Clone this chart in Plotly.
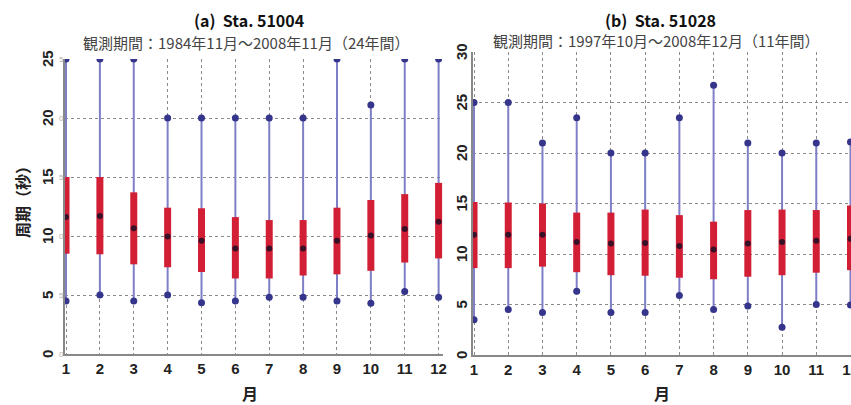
import plotly.graph_objects as go

months = list(range(1, 13))
month_labels = [str(m) for m in months]
a_yticks = [0, 5, 10, 15, 20, 25]
b_yticks = [0, 5, 10, 15, 20, 25, 30]

# (a) Sta. 51004
a_min = [4.5, 5.0, 4.5, 5.0, 4.35, 4.5, 4.8, 4.8, 4.5, 4.3, 5.3, 4.8]
a_q1 = [8.5, 8.45, 7.6, 7.35, 6.95, 6.4, 6.4, 6.65, 6.75, 7.05, 7.75, 8.1]
a_med = [11.6, 11.7, 10.65, 9.95, 9.6, 8.95, 8.95, 8.95, 9.6, 10.05, 10.6, 11.2]
a_q3 = [15.0, 15.0, 13.7, 12.4, 12.35, 11.6, 11.35, 11.35, 12.4, 13.05, 13.55, 14.5]
a_max = [25, 25, 25, 20, 20, 20, 20, 20, 25, 21.1, 25, 25]

# (b) Sta. 51028
b_min = [3.5, 4.5, 4.2, 6.3, 4.2, 4.2, 5.9, 4.5, 4.85, 2.75, 5.0, 4.95]
b_q1 = [8.6, 8.6, 8.75, 8.2, 7.9, 7.85, 7.65, 7.5, 7.75, 7.9, 8.15, 8.4]
b_med = [11.9, 11.9, 11.9, 11.2, 11.05, 11.1, 10.8, 10.45, 11.05, 11.2, 11.3, 11.5]
b_q3 = [15.15, 15.1, 15.0, 14.1, 14.1, 14.4, 13.85, 13.2, 14.35, 14.4, 14.35, 14.8]
b_max = [25, 25, 21, 23.5, 20, 20, 23.5, 26.7, 21, 20, 21, 21.1]

W, H = 851, 405
WHISKER = "#7f7fc8"
ENDDOT = "#35358c"
BOX = "#d21f35"
MED = "#3a0f28"
FONT_NUM = "Liberation Sans, Arial, Noto Sans CJK JP"
FONT_JP = "Noto Sans CJK JP, Liberation Sans"


def seg(xs, y0, y1):
    x, y = [], []
    for m, a, b in zip(xs, y0, y1):
        x += [m, m, None]
        y += [a, b, None]
    return x, y


fig = go.Figure()


def add_station(mins, q1, med, q3, maxs, xa, ya):
    wx, wy = seg(months, mins, maxs)
    fig.add_trace(go.Scatter(x=wx, y=wy, mode="lines", line=dict(color=WHISKER, width=2),
                             xaxis=xa, yaxis=ya, hoverinfo="skip"))
    fig.add_trace(go.Scatter(x=months + months, y=mins + maxs, mode="markers",
                             marker=dict(color=ENDDOT, size=7), xaxis=xa, yaxis=ya))
    bx, by = seg(months, q1, q3)
    fig.add_trace(go.Scatter(x=bx, y=by, mode="lines", line=dict(color=BOX, width=7),
                             xaxis=xa, yaxis=ya, hoverinfo="skip"))
    fig.add_trace(go.Scatter(x=months, y=med, mode="markers",
                             marker=dict(color=MED, size=6), xaxis=xa, yaxis=ya))


add_station(a_min, a_q1, a_med, a_q3, a_max, "x", "y")
add_station(b_min, b_q1, b_med, b_q3, b_max, "x2", "y2")

grid = dict(showgrid=True, gridcolor="#8a8a8a", griddash="dot", gridwidth=1,
            showline=True, linecolor="#888888", linewidth=1.5, zeroline=False,
            ticks="", fixedrange=True)
xt = dict(tickmode="array", tickvals=months, ticktext=month_labels, ticklabeloverflow="allow",
          tickfont=dict(family=FONT_NUM, size=15, color="#222", weight="bold"))

fig.update_layout(
    width=W, height=H,
    margin=dict(l=0, r=0, t=0, b=0, autoexpand=False),
    plot_bgcolor="white", paper_bgcolor="white",
    showlegend=False,
    xaxis=dict(domain=[65 / W, 443 / W], range=[0.97, 12.13], anchor="y", **grid, **xt),
    yaxis=dict(domain=[(H - 354) / H, (H - 59) / H], range=[0, 25], anchor="x",
               tickvals=a_yticks, showticklabels=False, **grid),
    xaxis2=dict(domain=[473 / W, 1.0], range=[0.97, 12.015], anchor="y2", **grid, **xt),
    yaxis2=dict(domain=[(H - 355) / H, (H - 52) / H], range=[0, 30], anchor="x2",
                tickvals=b_yticks, showticklabels=False, **grid),
)

tickfont = dict(family=FONT_NUM, size=15, color="#222", weight="bold")
ann = [
    dict(text="(a)  Sta. 51004", x=249 / W, y=1 - 20 / H, font=dict(family=FONT_JP, size=16, color="#111", weight="bold")),
    dict(text="観測期間：1984年11月～2008年11月（24年間）", x=246 / W, y=1 - 42 / H,
         font=dict(family=FONT_JP, size=15, color="#444")),
    dict(text="(b)  Sta. 51028", x=660 / W, y=1 - 20 / H, font=dict(family=FONT_JP, size=16, color="#111", weight="bold")),
    dict(text="観測期間：1997年10月～2008年12月（11年間）", x=656 / W, y=1 - 40 / H,
         font=dict(family=FONT_JP, size=15, color="#444")),
    dict(text="月", x=250 / W, y=1 - 393 / H, font=dict(family=FONT_JP, size=16, color="#222", weight="bold")),
    dict(text="月", x=662 / W, y=1 - 393 / H, font=dict(family=FONT_JP, size=16, color="#222", weight="bold")),
    dict(text="周期（秒）", x=22 / W, y=1 - 198 / H, textangle=-90,
         font=dict(family=FONT_JP, size=16, color="#222", weight="bold")),
]
for a in ann:
    a.update(xref="paper", yref="paper")
for v in a_yticks:
    ann.append(dict(text=str(v), x=47 / W, y=v, xref="paper", yref="y", textangle=-90, font=tickfont))
    ann.append(dict(text=str(v)[-1], x=61 / W, y=v, xref="paper", yref="y",
                    font=dict(family=FONT_NUM, size=8, color="#b0b0b0")))
for v in b_yticks:
    ann.append(dict(text=str(v), x=461 / W, y=v, xref="paper", yref="y2", textangle=-90, font=tickfont))
for a in ann:
    a.update(showarrow=False, xanchor="center", yanchor="middle")
fig.update_layout(annotations=ann)

fig.write_html("out.html", config={"displayModeBar": False},
               post_script="document.body.style.margin='0';document.body.style.overflow='hidden';")
